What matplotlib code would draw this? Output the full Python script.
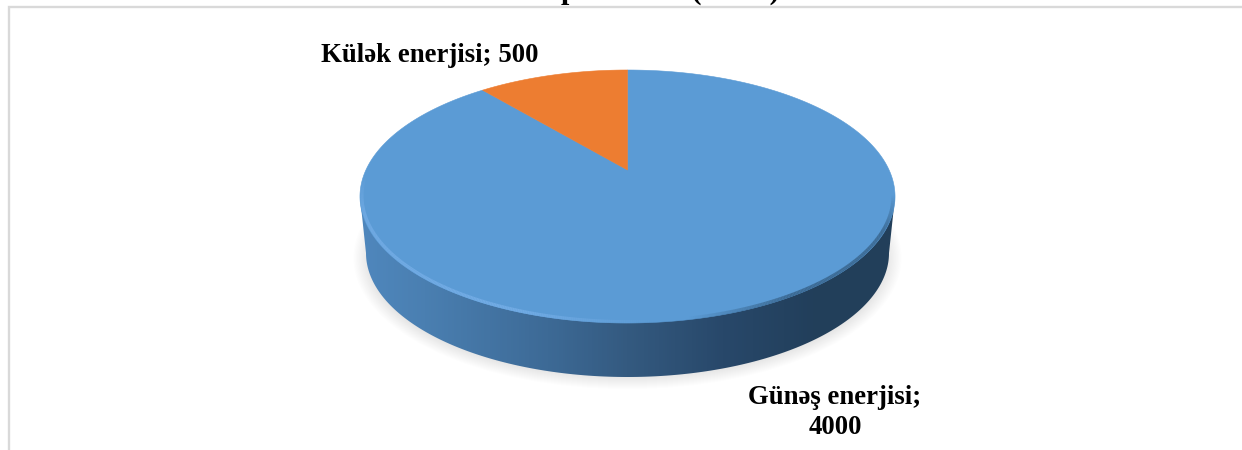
import numpy as np
import matplotlib
matplotlib.use("Agg")
import matplotlib.pyplot as plt
from matplotlib.patches import Polygon, Ellipse
from matplotlib.collections import LineCollection
from matplotlib.colors import LinearSegmentedColormap, to_rgb

# --- data ---
categories = ["Külək enerjisi", "Günəş enerjisi"]
values = [500, 4000]
slice_colors = ["#ed7d31", "#5b9bd5"]
labels = ["Külək enerjisi; 500", "Günəş enerjisi;\n4000"]
title = "potensialı (MWt)"

plt.rcParams["font.family"] = ["Liberation Serif", "DejaVu Serif"]
W, H = 1242, 450
fig = plt.figure(figsize=(W / 100, H / 100), dpi=100, facecolor="white")
ax = fig.add_axes([0, 0, 1, 1])
ax.set_xlim(0, W)
ax.set_ylim(H, 0)
ax.axis("off")

# perspective projection of the unit disc on to the picture
CX, CY, A, B, K = 627.5, 170.0, 261.6, 120.95, 0.2095


def project(theta, r=1.0):
    """theta: radians clockwise from the top of the pie."""
    u, v = r * np.sin(theta), r * np.cos(theta)
    d = 1 + K * v
    return CX + A * u / d, CY - B * v / d


# chart frame
ax.plot([9, 9, W], [H, 6.8, 6.8], color="#d9d9d9", lw=1.7, solid_joinstyle="miter", zorder=1)

# soft shadow
for i in range(14):
    t = i / 13
    ax.add_patch(Ellipse((627.5, 258), 2 * (274 - 16 * t), 2 * (131 - 13 * t),
                         fc="#8a8a8a", ec="none", alpha=0.016, zorder=2))

# side wall with horizontal shading
tt = np.linspace(np.pi / 2, 3 * np.pi / 2, 200)
lx = 627.5 + 261.5 * np.sin(tt)
ly = 253 - 124 * np.cos(tt)
side_xy = np.vstack([[895, 197], np.column_stack([lx, ly]), [360, 197]])
side = Polygon(side_xy, closed=True, fc="none", ec="none", zorder=3)
ax.add_patch(side)
cmap = LinearSegmentedColormap.from_list(
    "wall",
    [(0.0, "#4f87bd"), (0.12, "#4a7fb1"), (0.35, "#3d6a96"), (0.5, "#345a80"),
     (0.68, "#28486a"), (0.85, "#223f5b"), (1.0, "#223f5a")],
)
im = ax.imshow(np.linspace(0, 1, 535)[None, :], cmap=cmap, extent=[360, 895, 380, 190],
               aspect="auto", zorder=3)
im.set_clip_path(side)
ax.set_xlim(0, W)
ax.set_ylim(H, 0)

# top surface wedges, clockwise from the top, the last slice ending at 12 o'clock
fractions = np.array(values[::-1], dtype=float) / sum(values)
colors = slice_colors[::-1]
edges = np.concatenate([[0], np.cumsum(fractions)]) * 2 * np.pi
for a0, a1, col in zip(edges[:-1], edges[1:], colors):
    th = np.linspace(a0, a1, 400)
    x, y = project(th)
    poly = np.vstack([[CX, CY], np.column_stack([x, y])])
    ax.add_patch(Polygon(poly, closed=True, fc=col, ec=col, lw=0.4, zorder=4))

# rim bevel: light on the left, dark on the right
th = np.linspace(np.radians(60), 2 * np.pi - np.radians(40), 800)
x, y = project(th, 0.993)
pts = np.column_stack([x, y])
segs = np.stack([pts[:-1], pts[1:]], axis=1)
light = np.array(to_rgb("#74ade6"))
dark = np.array(to_rgb("#2f5679"))
seg_cols = []
for px, py in zip(x[:-1], y[:-1]):
    if px < 660:
        a = np.clip((660 - px) / 140, 0, 1) * 0.9 * np.clip((py - 175) / 40, 0, 1)
        seg_cols.append((*light, a))
    else:
        a = np.clip((px - 690) / 100, 0, 1) * 0.7 * np.clip((py - 195) / 35, 0, 1)
        seg_cols.append((*dark, a))
ax.add_collection(LineCollection(segs, colors=seg_cols, linewidths=2.4, zorder=5))

# text
ax.text(670.5, -1.2, title, ha="center", va="baseline", fontsize=21.5, fontweight="bold",
        color="black", zorder=6)
ax.text(429.5, 56, labels[0], ha="center", va="center", fontsize=19.3, fontweight="bold",
        color="black", zorder=6)
ax.text(835, 397, labels[1].split("\n")[0], ha="center", va="center", fontsize=19.3,
        fontweight="bold", color="black", zorder=6)
ax.text(835, 428, labels[1].split("\n")[1], ha="center", va="center", fontsize=19.3,
        fontweight="bold", color="black", zorder=6)

fig.savefig("out.png", dpi=100, facecolor="white")
